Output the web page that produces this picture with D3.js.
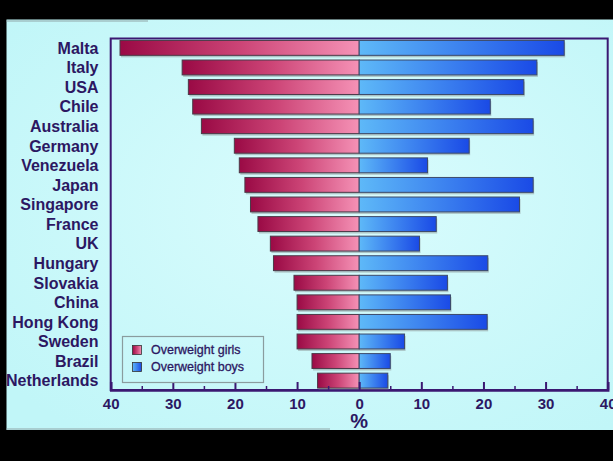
<!DOCTYPE html>
<html>
<head>
<meta charset="utf-8">
<script src="https://cdn.jsdelivr.net/npm/d3@7"></script>
<style>
  html, body { margin: 0; padding: 0; background: #000; }
  svg { display: block; }
</style>
</head>
<body>
<script>
const countries = ["Malta","Italy","USA","Chile","Australia","Germany","Venezuela","Japan","Singapore","France","UK","Hungary","Slovakia","China","Hong Kong","Sweden","Brazil","Netherlands"];
const girls = [38.5, 28.5, 27.5, 26.8, 25.4, 20.1, 19.3, 18.4, 17.5, 16.3, 14.3, 13.8, 10.5, 10.0, 10.0, 10.0, 7.6, 6.7];
const boys  = [33.0, 28.6, 26.5, 21.1, 28.0, 17.7, 11.0, 28.0, 25.8, 12.4, 9.7, 20.7, 14.2, 14.7, 20.6, 7.3, 5.0, 4.6];
const majorTicks = [-40, -30, -20, -10, 0, 10, 20, 30, 40];
const minorTicks = [-35, -25, -15, -5, 5, 15, 25, 35];
const seriesNames = ["Overweight girls", "Overweight boys"];
const axisTitle = "%";

const W = 613, H = 461;
const svg = d3.select("body").append("svg").attr("width", W).attr("height", H);
const defs = svg.append("defs");

const bg = defs.append("radialGradient").attr("id", "bg").attr("cx", "55%").attr("cy", "45%").attr("r", "70%");
bg.append("stop").attr("offset", "0%").attr("stop-color", "#dafcfd");
bg.append("stop").attr("offset", "100%").attr("stop-color", "#c1f6f8");

const gG = defs.append("linearGradient").attr("id", "gGirls").attr("x1", 0).attr("x2", 1).attr("y1", 0).attr("y2", 0);
gG.append("stop").attr("offset", "0%").attr("stop-color", "#9a0a45");
gG.append("stop").attr("offset", "50%").attr("stop-color", "#cc4476");
gG.append("stop").attr("offset", "100%").attr("stop-color", "#f592b6");
const gB = defs.append("linearGradient").attr("id", "gBoys").attr("x1", 0).attr("x2", 1).attr("y1", 0).attr("y2", 0);
gB.append("stop").attr("offset", "0%").attr("stop-color", "#5eb9f8");
gB.append("stop").attr("offset", "100%").attr("stop-color", "#1a4ae6");

// panel
svg.append("rect").attr("x", 6.5).attr("y", 19.5).attr("width", W - 6.5).attr("height", 410.5).attr("fill", "url(#bg)");
svg.append("line").attr("x1", 6.5).attr("x2", 148).attr("y1", 21).attr("y2", 21).attr("stroke", "#8fa5a8").attr("stroke-width", 1.2);
svg.append("line").attr("x1", 6.5).attr("x2", 330).attr("y1", 429).attr("y2", 429).attr("stroke", "#8fa5a8").attr("stroke-width", 1.2);

const x = d3.scaleLinear().domain([-40, 40]).range([110.7, 607.7]);
const y = d3.scaleBand().domain(countries).range([38.5, 390]).paddingInner(0.24).paddingOuter(0.1);

const ink = "#2c1762";
const frame = "#3b1872";
const font = "Liberation Sans, Arial, sans-serif";

// frame
svg.append("rect")
  .attr("x", x(-40)).attr("y", 38.5)
  .attr("width", x(40) - x(-40)).attr("height", 390 - 38.5)
  .attr("fill", "none").attr("stroke", frame).attr("stroke-width", 2);

const rows = countries.map((c, i) => ({c, g: girls[i], b: boys[i]}));

// shadows
const sh = svg.append("g").attr("fill", "#9fb3b4").attr("opacity", 0.75);
sh.selectAll("rect").data(rows).join("rect")
  .attr("x", d => x(-d.g) + 1).attr("y", d => y(d.c) + 2)
  .attr("width", d => x(d.b) - x(-d.g)).attr("height", y.bandwidth());

// bars
svg.append("g").selectAll("rect").data(rows).join("rect")
  .attr("x", d => x(-d.g)).attr("y", d => y(d.c))
  .attr("width", d => x(0) - x(-d.g)).attr("height", y.bandwidth())
  .attr("fill", "url(#gGirls)").attr("stroke", "#4b3a48").attr("stroke-width", 1);
svg.append("g").selectAll("rect").data(rows).join("rect")
  .attr("x", x(0)).attr("y", d => y(d.c))
  .attr("width", d => x(d.b) - x(0)).attr("height", y.bandwidth())
  .attr("fill", "url(#gBoys)").attr("stroke", "#3c4a6a").attr("stroke-width", 1);

// country labels
svg.append("g").selectAll("text").data(countries).join("text")
  .attr("x", 98.5).attr("y", d => y(d) + y.bandwidth() / 2)
  .attr("dy", "0.36em").attr("text-anchor", "end")
  .attr("font-family", font).attr("font-weight", "bold")
  .attr("font-size", "16px").attr("fill", ink)
  .text(d => d);

// axis
const axisG = svg.append("g").attr("transform", "translate(0,390)");
axisG.call(d3.axisBottom(x).tickValues(majorTicks).tickSize(-8).tickPadding(8).tickFormat(d => Math.abs(d)));
axisG.select(".domain").attr("stroke", frame).attr("stroke-width", 2.5);
axisG.selectAll(".tick line").attr("stroke", frame).attr("stroke-width", 2);
axisG.selectAll(".tick text").attr("fill", ink).attr("font-family", font)
  .attr("font-weight", "bold").attr("font-size", "15px");
const minorG = svg.append("g").attr("transform", "translate(0,390)");
minorG.call(d3.axisBottom(x).tickValues(minorTicks).tickSize(-4).tickFormat(""));
minorG.select(".domain").remove();
minorG.selectAll(".tick line").attr("stroke", frame).attr("stroke-width", 1.5);

svg.append("text").attr("x", x(0)).attr("y", 428)
  .attr("text-anchor", "middle").attr("font-family", font)
  .attr("font-weight", "bold").attr("font-size", "20px").attr("fill", ink).text(axisTitle);

// legend
const lg = svg.append("g");
lg.append("rect").attr("x", 122.5).attr("y", 336.5).attr("width", 141).attr("height", 46)
  .attr("fill", "none").attr("stroke", "#8a9c9e").attr("stroke-width", 1.2);
const fills = ["url(#gGirls)", "url(#gBoys)"];
seriesNames.forEach((name, i) => {
  const yy = 345.5 + i * 17;
  lg.append("rect").attr("x", 132.5).attr("y", yy).attr("width", 9).attr("height", 9)
    .attr("fill", fills[i]).attr("stroke", "#333").attr("stroke-width", 0.8);
  lg.append("text").attr("x", 151).attr("y", yy + 8.8)
    .attr("font-family", font).attr("font-size", "12.5px")
    .attr("fill", ink).attr("stroke", ink).attr("stroke-width", 0.3).text(name);
});

// black band at bottom
svg.append("rect").attr("x", 0).attr("y", 430).attr("width", W).attr("height", H - 430).attr("fill", "#000");
</script>
</body>
</html>
